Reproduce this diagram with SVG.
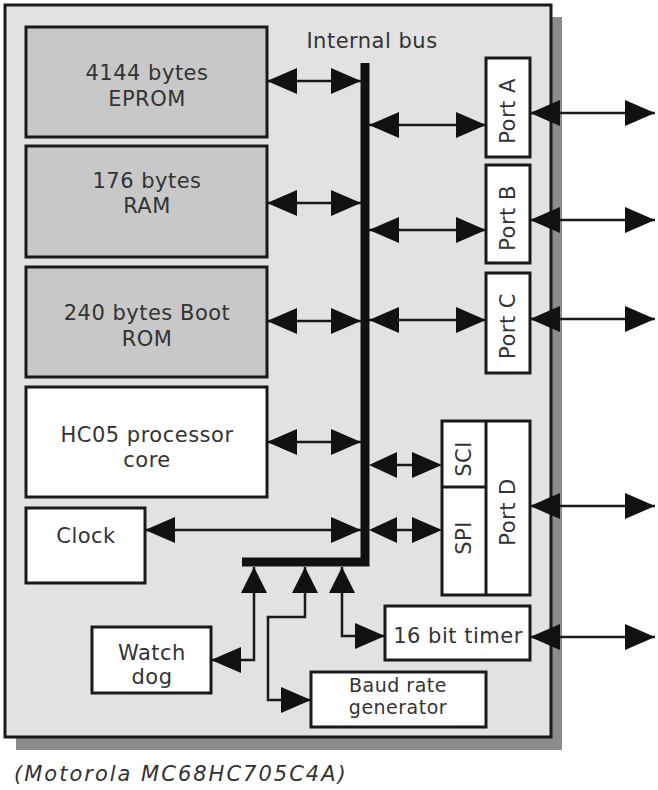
<svg xmlns="http://www.w3.org/2000/svg" width="658" height="790" viewBox="0 0 658 790">
<style>
.box{stroke:#1a1a1a;stroke-width:3}
.mem{fill:#c8c8c8}
.wht{fill:#ffffff}
.t{font-family:"DejaVu Sans",sans-serif;font-size:21px;fill:#333;text-anchor:middle;letter-spacing:0.5px}
.s{font-size:19px}
.ln{fill:none;stroke:#1a1a1a;stroke-width:2.5}
.dbl{marker-start:url(#ah);marker-end:url(#ah)}
</style>
<defs>
<marker id="ah" viewBox="0 0 30 26" refX="30" refY="13" markerWidth="30" markerHeight="26" markerUnits="userSpaceOnUse" orient="auto-start-reverse">
<path d="M0,0 L30,13 L0,26 Z" fill="#111"/>
</marker>
<marker id="au" viewBox="0 0 26 26" refX="26" refY="13" markerWidth="26" markerHeight="26" markerUnits="userSpaceOnUse" orient="auto-start-reverse">
<path d="M0,0 L26,13 L0,26 Z" fill="#111"/>
</marker>
</defs>
<g id="chip">
<rect x="16" y="17" width="546" height="733" fill="#8c8c8c"/>
<rect x="5" y="5" width="546" height="732" fill="#e2e2e2" stroke="#1a1a1a" stroke-width="3"/>
</g>
<g id="eprom"><rect class="box mem" x="26" y="27" width="241" height="110"/><text class="t" x="147" y="80">4144 bytes</text><text class="t" x="147" y="106">EPROM</text></g>
<g id="ram"><rect class="box mem" x="26" y="146" width="241" height="111"/><text class="t" x="147" y="188">176 bytes</text><text class="t" x="147" y="213">RAM</text></g>
<g id="bootrom"><rect class="box mem" x="26" y="267" width="241" height="110"/><text class="t" x="147" y="320">240 bytes Boot</text><text class="t" x="147" y="346">ROM</text></g>
<g id="core"><rect class="box wht" x="26" y="387" width="241" height="110"/><text class="t" x="147" y="442">HC05 processor</text><text class="t" x="147" y="467">core</text></g>
<g id="clock"><rect class="box wht" x="26" y="508" width="119" height="75"/><text class="t" x="86" y="543">Clock</text></g>
<g id="porta"><rect class="box wht" x="486" y="58" width="44" height="99"/><text class="t" transform="translate(515,111) rotate(-90)">Port A</text></g>
<g id="portb"><rect class="box wht" x="486" y="165" width="44" height="98"/><text class="t" transform="translate(515,218) rotate(-90)">Port B</text></g>
<g id="portc"><rect class="box wht" x="486" y="273" width="44" height="100"/><text class="t" transform="translate(515,326) rotate(-90)">Port C</text></g>
<g id="portd"><rect class="box wht" x="442" y="421" width="88" height="174"/><line x1="486" y1="421" x2="486" y2="595" stroke="#1a1a1a" stroke-width="3"/><line x1="442" y1="487" x2="486" y2="487" stroke="#1a1a1a" stroke-width="3"/><text class="t" transform="translate(515,512) rotate(-90)">Port D</text></g>
<g id="sci"><text class="t" transform="translate(471,459) rotate(-90)">SCI</text></g>
<g id="spi"><text class="t" transform="translate(471,538) rotate(-90)">SPI</text></g>
<g id="timer"><rect class="box wht" x="385" y="606" width="145" height="54"/><text class="t" x="458" y="643">16 bit timer</text></g>
<g id="baud"><rect class="box wht" x="311" y="672" width="175" height="55"/><text class="t s" x="398" y="692">Baud rate</text><text class="t s" x="398" y="714">generator</text></g>
<g id="watchdog"><rect class="box wht" x="92" y="627" width="119" height="66"/><text class="t" x="152" y="660">Watch</text><text class="t" x="152" y="684">dog</text></g>
<g id="bus"><path d="M365,63 V562 H242" fill="none" stroke="#111" stroke-width="9"/><text class="t" x="372" y="48">Internal bus</text></g>
<g id="connectors">
<line class="ln dbl" x1="361" y1="81" x2="267" y2="81"/>
<line class="ln dbl" x1="361" y1="203" x2="267" y2="203"/>
<line class="ln dbl" x1="361" y1="321" x2="267" y2="321"/>
<line class="ln dbl" x1="361" y1="442" x2="267" y2="442"/>
<line class="ln dbl" x1="361" y1="530" x2="145" y2="530"/>
<line class="ln dbl" x1="369" y1="125" x2="486" y2="125"/>
<line class="ln dbl" x1="369" y1="230" x2="486" y2="230"/>
<line class="ln dbl" x1="369" y1="320" x2="486" y2="320"/>
<line class="ln" x1="397" y1="465" x2="412" y2="465"/>
<path d="M369,465 L397,452 L397,478 Z M442,465 L412,452 L412,478 Z" fill="#111"/>
<line class="ln" x1="397" y1="530" x2="412" y2="530"/>
<path d="M369,530 L397,517 L397,543 Z M442,530 L412,517 L412,543 Z" fill="#111"/>
<line class="ln dbl" x1="530" y1="113" x2="655" y2="113"/>
<line class="ln dbl" x1="530" y1="220" x2="655" y2="220"/>
<line class="ln dbl" x1="530" y1="319" x2="655" y2="319"/>
<line class="ln dbl" x1="530" y1="506" x2="655" y2="506"/>
<line class="ln dbl" x1="530" y1="637" x2="655" y2="637"/>
<path class="ln" d="M254,567 V660 H211" marker-start="url(#au)" marker-end="url(#ah)"/>
<path class="ln" d="M305,567 V617 H268 V700 H311" marker-start="url(#au)" marker-end="url(#ah)"/>
<path class="ln" d="M342,567 V636 H385" marker-start="url(#au)" marker-end="url(#ah)"/>
</g>
<text x="14" y="781" style="font-family:'DejaVu Sans',sans-serif;font-size:21px;font-style:italic;fill:#333;letter-spacing:2px">(Motorola MC68HC705C4A)</text>
</svg>
